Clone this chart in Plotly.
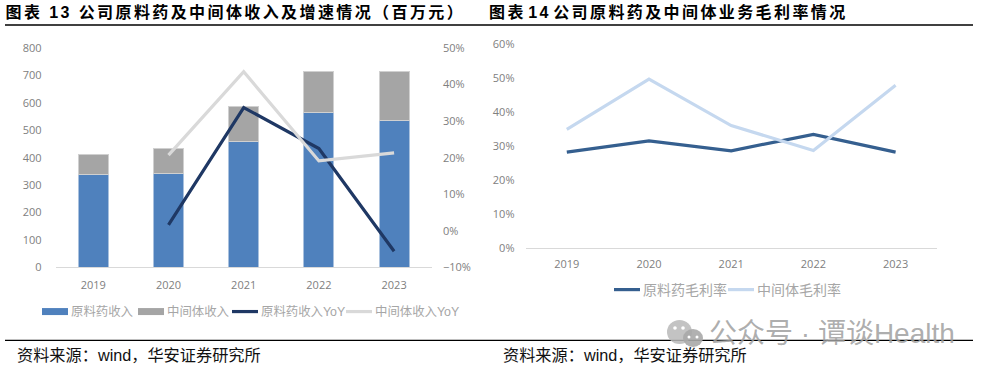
import plotly.graph_objects as go

years = ["2019", "2020", "2021", "2022", "2023"]
api_revenue = [337, 344, 460, 563, 534]
intermediate_revenue = [74, 89, 127, 152, 182]
api_yoy = [None, 1.6, 33.7, 22.5, -5.6]
intermediate_yoy = [None, 20.7, 43.5, 19.1, 21.3]
api_margin = [28.2, 31.5, 28.6, 33.4, 28.2]
intermediate_margin = [34.9, 49.6, 36.0, 28.7, 47.8]

title_left = "图表 13 公司原料药及中间体收入及增速情况\uff08百万元\uff09"
title_right = "图表 14 公司原料药及中间体业务毛利率情况"
source = "资料来源\uff1awind\uff0c华安证券研究所"
watermark = "公众号 · 谭谈Health"

W, H = 986, 372
BLUE, GREY, NAVY, LIGHT = "#4f81bd", "#a5a5a5", "#1f3864", "#d9d9d9"
M1, M2 = "#355f8f", "#c5d8ef"
TICK = "#808080"
LEG = "#a6a6a6"
FONT = "Open Sans, Noto Sans CJK SC"
CJK = "Liberation Sans, Noto Sans CJK SC"

def px(x): return x / W
def py(y): return 1 - y / H

fig = go.Figure()
fig.add_bar(x=years, y=api_revenue, name="原料药收入", marker=dict(color=BLUE, line=dict(color="#a9c1de", width=1)),
            xaxis="x", yaxis="y", showlegend=False)
fig.add_bar(x=years, y=intermediate_revenue, name="中间体收入", marker=dict(color=GREY, line=dict(color="#d0d0d0", width=1)),
            xaxis="x", yaxis="y", showlegend=False)
# legend-only swatches: plotly's bar swatch is a small square, the reference has wide bands
fig.add_scatter(x=[None], y=[None], mode="lines", name="原料药收入", line=dict(color=BLUE, width=7),
                xaxis="x", yaxis="y", legend="legend")
fig.add_scatter(x=[None], y=[None], mode="lines", name="中间体收入", line=dict(color=GREY, width=7),
                xaxis="x", yaxis="y", legend="legend2")
fig.add_scatter(x=years, y=api_yoy, mode="lines", name="原料药收入YoY", line=dict(color=NAVY, width=3.2),
                xaxis="x", yaxis="y2", legend="legend3")
fig.add_scatter(x=years, y=intermediate_yoy, mode="lines", name="中间体收入YoY", line=dict(color=LIGHT, width=3.2),
                xaxis="x", yaxis="y2", legend="legend4")
fig.add_scatter(x=years, y=api_margin, mode="lines", name="原料药毛利率", line=dict(color=M1, width=3.2),
                xaxis="x2", yaxis="y3", legend="legend5")
fig.add_scatter(x=years, y=intermediate_margin, mode="lines", name="中间体毛利率", line=dict(color=M2, width=3.2),
                xaxis="x2", yaxis="y3", legend="legend6")

tick_font = dict(family=FONT, size=11, color=TICK)
def xaxis(domain, anchor, ticklen):
    return dict(domain=domain, anchor=anchor, type="category", range=[-0.5, 4.5], showgrid=False, automargin=False,
                showline=True, linecolor="#d9d9d9", linewidth=1.2, ticks="outside", ticklen=ticklen,
                tickcolor="rgba(0,0,0,0)", tickfont=tick_font, zeroline=False)
def yaxis(domain, rng, dtick, **kw):
    d = dict(domain=domain, range=rng, dtick=dtick, showgrid=False, zeroline=False, showline=False, automargin=False,
             ticks="outside", tickcolor="rgba(0,0,0,0)", tickfont=tick_font)
    d.update(kw)
    return d
def legend(x, y, size):
    return dict(orientation="h", x=px(x), y=py(y),
                xanchor="left", yanchor="top", font=dict(family=CJK, size=size, color=LEG),
                bgcolor="rgba(0,0,0,0)", itemclick=False, itemdoubleclick=False)
def dot(x, y, r, color="white"):
    return dict(type="circle", xref="paper", yref="paper", x0=px(x - r), x1=px(x + r), y0=py(y + r), y1=py(y - r),
                fillcolor=color, line_width=0)

fig.update_layout(
    width=W, height=H, autosize=False, margin=dict(l=0, r=0, t=0, b=0),
    paper_bgcolor="white", plot_bgcolor="rgba(0,0,0,0)", barmode="stack", bargap=0.6,
    xaxis=xaxis([px(55.7), px(431.7)], "y", 7),
    yaxis=yaxis([py(267.3), py(48)], [0, 800], 100, ticklen=11),
    yaxis2=yaxis([py(267.3), py(48)], [-10, 50], 10, overlaying="y", side="right", anchor="x",
                 ticklen=8, ticksuffix="%"),
    xaxis2=xaxis([px(525.7), px(936.7)], "y3", 5),
    yaxis3=yaxis([py(248.3), py(43.7)], [0, 60], 10, anchor="x2", ticklen=8, ticksuffix="%"),
    legend=legend(31, 297, 12.4),
    legend2=legend(127, 297, 12.4),
    legend3=legend(221, 297, 12.4),
    legend4=legend(335, 297, 12.4),
    legend5=legend(603, 274, 14),
    legend6=legend(717, 274, 14),
    shapes=[
        dict(type="line", xref="paper", yref="paper", x0=px(5), x1=px(973), y0=py(25), y1=py(25),
             line=dict(color="black", width=1.3)),
        dict(type="line", xref="paper", yref="paper", x0=px(5), x1=px(973), y0=py(340.3), y1=py(340.3),
             line=dict(color="black", width=1.3)),
        dict(type="circle", xref="paper", yref="paper", x0=px(667), x1=px(692), y0=py(344), y1=py(320),
             fillcolor="#b8b8b8", line_width=0, opacity=0.85),
        dict(type="circle", xref="paper", yref="paper", x0=px(683), x1=px(703), y0=py(347), y1=py(329),
             fillcolor="#a8a8a8", line_width=0, opacity=0.9),
        dot(675, 328, 1.8), dot(683, 328, 1.8), dot(689, 337, 1.5), dot(697, 337, 1.5),
    ],
    annotations=[
        dict(text=title_left, xref="paper", yref="paper", x=px(36), y=py(12), xanchor="left", yanchor="middle",
             showarrow=False, font=dict(family=CJK, size=16, color="black", weight=700)),
        dict(text=title_right, xref="paper", yref="paper", x=px(508.5), y=py(12), xanchor="left", yanchor="middle",
             showarrow=False, font=dict(family=CJK, size=16, color="black", weight=700)),
        dict(text=source, xref="paper", yref="paper", x=px(14.5), y=py(355), xanchor="left", yanchor="middle",
             showarrow=False, font=dict(family=CJK, size=16.2, color="#111111")),
        dict(text=source, xref="paper", yref="paper", x=px(501), y=py(355), xanchor="left", yanchor="middle",
             showarrow=False, font=dict(family=CJK, size=16.2, color="#111111")),
        dict(text=watermark, xref="paper", yref="paper", x=px(707), y=py(333), xanchor="left", yanchor="middle",
             showarrow=False, font=dict(family=CJK, size=28, color="rgba(160,160,160,0.85)")),
    ],
)
post = """
document.body.style.margin = '0';
document.querySelectorAll('.annotation-text').forEach(function(t){
  if (t.textContent.indexOf('图表 13') === 0) { t.style.letterSpacing = '2.4px'; }
  if (t.textContent.indexOf('图表 14') === 0) { t.style.letterSpacing = '2.4px'; t.style.wordSpacing = '-4.5px'; }
});
document.querySelectorAll('.legendlines path').forEach(function(p){
  p.setAttribute('d', 'M11,0h26');
});
"""
fig.write_html("out.html", post_script=post, config=dict(displayModeBar=False))
